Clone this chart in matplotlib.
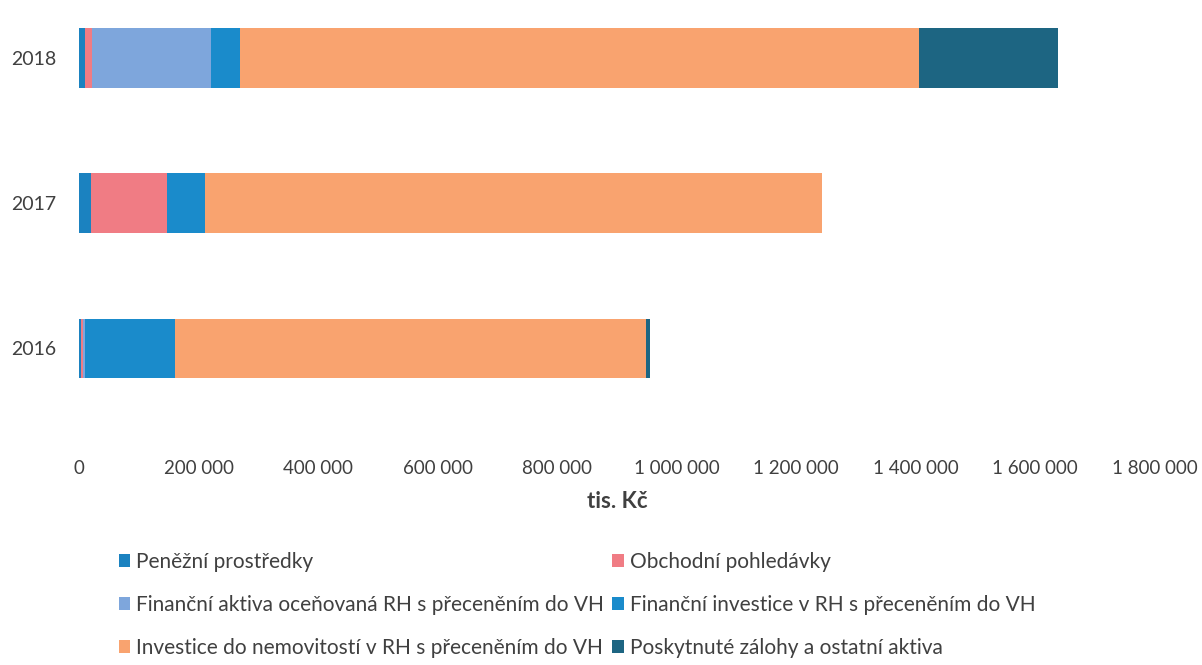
import numpy as np
import matplotlib
matplotlib.use('Agg')
import matplotlib.pyplot as plt

plt.rcParams['font.family'] = ['Lato', 'DejaVu Sans']

# data (tis. Kč)
years = ['2016', '2017', '2018']
penezni = [3000, 20000, 10000]
obchodni = [4000, 127000, 12000]
fin_aktiva = [3000, 0, 199000]
fin_investice = [150000, 64000, 48000]
nemovitosti = [788000, 1033000, 1137000]
zalohy = [7000, 0, 232000]

series_names = ['Peněžní prostředky',
                'Obchodní pohledávky',
                'Finanční aktiva oceňovaná RH s přeceněním do VH',
                'Finanční investice v RH s přeceněním do VH',
                'Investice do nemovitostí v RH s přeceněním do VH',
                'Poskytnuté zálohy a ostatní aktiva']
colors = ['#1b82c0', '#f07c84', '#7ea6dc', '#1a8bcb', '#f9a36f', '#1d6582']

x_ticks = np.arange(0, 1800001, 200000)

fig = plt.figure(figsize=(12.02, 6.65), dpi=100)
ax = fig.add_axes([0.0657, 0.333, 0.895, 0.655])

data = [penezni, obchodni, fin_aktiva, fin_investice, nemovitosti, zalohy]
ypos = np.arange(len(years))
left = np.zeros(len(years))
handles = []
for vals, name, c in zip(data, series_names, colors):
    b = ax.barh(ypos, vals, left=left, height=0.41, color=c, label=name)
    handles.append(b)
    left += np.array(vals)

ax.set_xlim(0, 1800000)
ax.set_ylim(-0.655, 2.345)
ax.set_yticks(ypos)
ax.set_yticklabels(years)
ax.set_xticks(x_ticks)
ax.set_xticklabels(['0' if v == 0 else f'{v:,}'.replace(',', ' ') for v in x_ticks])
ax.tick_params(axis='both', length=0, labelsize=13.5, colors='#404040')
ax.tick_params(axis='x', pad=12)
ax.tick_params(axis='y', pad=16, labelsize=14)
for s in ax.spines.values():
    s.set_visible(False)
ax.set_xlabel('tis. Kč', fontsize=16, fontweight='bold', color='#404040', labelpad=10)

# legend below, filled column-wise
order = [0, 2, 4, 1, 3, 5]
fig.legend([handles[i] for i in order], [series_names[i] for i in order],
           ncol=2, loc='upper left', bbox_to_anchor=(0.083, 0.198),
           frameon=False, fontsize=15, labelcolor='#404040',
           handlelength=0.55, handleheight=0.55, handletextpad=0.3,
           columnspacing=0.4, labelspacing=1.1)

fig.savefig('out.png', dpi=100)
